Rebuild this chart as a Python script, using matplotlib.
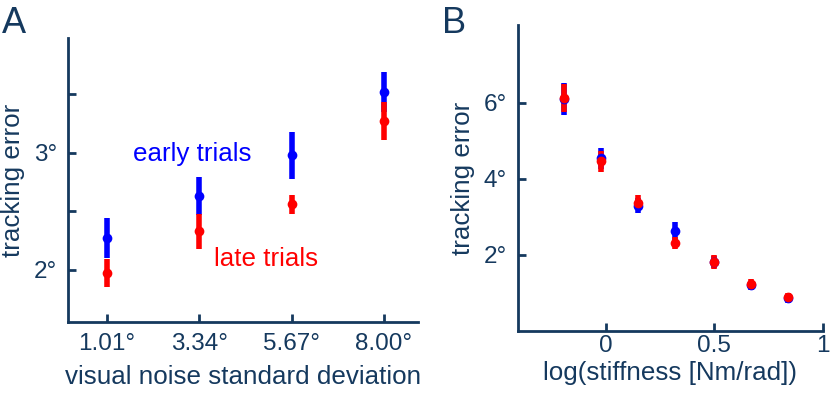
import matplotlib
matplotlib.use("Agg")
import matplotlib.pyplot as plt

# =====================
#   DATA
# =====================
# panel A: visual noise
noise_sd = [1.01, 3.34, 5.67, 8.00]
noise_labels = ["1.01°", "3.34°", "5.67°", "8.00°"]
early_a = [2.27, 2.63, 2.98, 3.52]
early_a_err = [0.17, 0.16, 0.20, 0.17]
late_a = [1.97, 2.33, 2.56, 3.27]
late_a_err = [0.12, 0.15, 0.08, 0.16]

# panel B: stiffness
log_stiff = [-0.194, -0.023, 0.147, 0.32, 0.50, 0.67, 0.84]
early_b = [6.11, 4.54, 3.30, 2.64, 1.82, 1.20, 0.86]
early_b_err = [0.42, 0.28, 0.20, 0.24, 0.15, 0.12, 0.12]
late_b = [6.13, 4.46, 3.38, 2.32, 1.82, 1.24, 0.89]
late_b_err = [0.38, 0.27, 0.20, 0.15, 0.18, 0.12, 0.12]

# =====================
#   STYLE
# =====================
NAVY = "#15395e"
BLUE = "#0000ff"
RED = "#ff0000"
plt.rcParams['font.family'] = ['Liberation Sans', 'DejaVu Sans']

fig = plt.figure(figsize=(8.31, 3.98), dpi=100)
axA = fig.add_axes([0.0818, 0.191, 0.421, 0.7136])
axB = fig.add_axes([0.6235, 0.1683, 0.3665, 0.769])


def style_axes(ax):
    for side in ['top', 'right']:
        ax.spines[side].set_visible(False)
    for side in ['left', 'bottom']:
        ax.spines[side].set_color(NAVY)
        ax.spines[side].set_linewidth(2)
    ax.tick_params(direction='in', length=6, width=2, color=NAVY,
                   labelcolor=NAVY, labelsize=17.5, pad=8)


def draw(ax, x, y, err, color):
    ax.errorbar(x, y, yerr=err, fmt='o', color=color, ms=7, elinewidth=4,
                capsize=0, mew=0)


# ---- panel A
draw(axA, noise_sd, early_a, early_a_err, BLUE)
draw(axA, noise_sd, late_a, late_a_err, RED)
axA.set_xlim(0.02, 8.86)
axA.set_ylim(1.555, 3.98)
axA.set_xticks(noise_sd)
axA.set_xticklabels(noise_labels)
axA.set_yticks([2, 2.5, 3, 3.5])
axA.set_yticklabels(["2°", "", "3°", ""])
style_axes(axA)
axA.set_xlabel("visual noise standard deviation", fontsize=18.7, color=NAVY, labelpad=7)
axA.set_ylabel("tracking error", fontsize=18.7, color=NAVY, labelpad=6)
axA.text(0.185, 0.59, "early trials", transform=axA.transAxes, color=BLUE,
         fontsize=18.7, va='center', ha='left')
axA.text(0.417, 0.22, "late trials", transform=axA.transAxes, color=RED,
         fontsize=18.7, va='center', ha='left')

# ---- panel B
draw(axB, log_stiff, early_b, early_b_err, BLUE)
draw(axB, log_stiff, late_b, late_b_err, RED)
axB.set_xlim(-0.405, 1.0)
axB.set_ylim(0, 8.05)
axB.set_xticks([0, 0.5, 1])
axB.set_xticklabels(["0", "0.5", "1"])
axB.set_yticks([2, 4, 6])
axB.set_yticklabels(["2°", "4°", "6°"])
style_axes(axB)
axB.tick_params(axis='x', pad=3)
axB.set_xlabel("log(stiffness [Nm/rad])", fontsize=18.7, color=NAVY, labelpad=3)
axB.set_ylabel("tracking error", fontsize=18.7, color=NAVY, labelpad=6)

# panel letters
fig.text(0.002, 0.985, "A", fontsize=26, color=NAVY, va='top', ha='left')
fig.text(0.532, 0.985, "B", fontsize=26, color=NAVY, va='top', ha='left')

fig.savefig("out.png", dpi=100)
